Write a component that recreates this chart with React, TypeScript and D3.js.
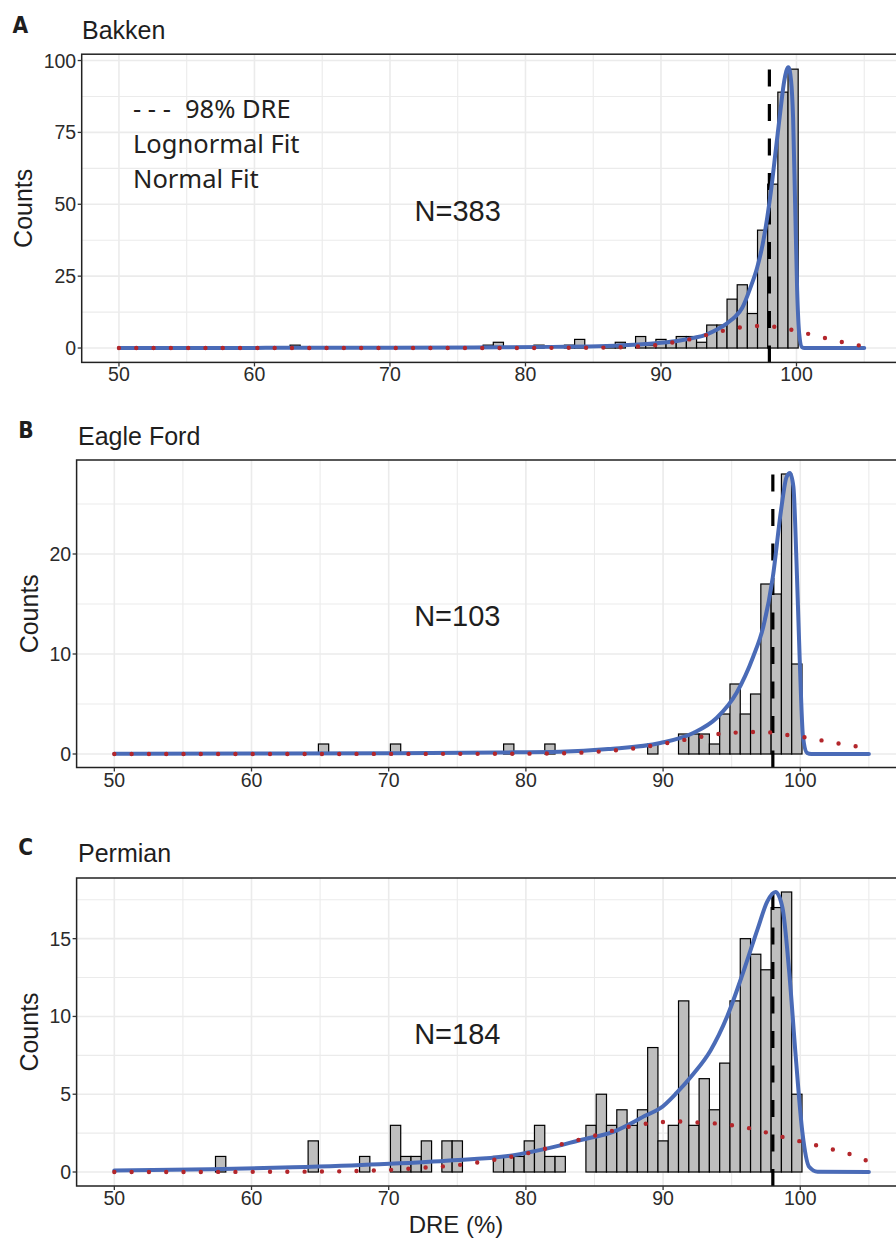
import React from 'react';
import * as d3 from 'd3';

// ---------- shared ----------
const xMajorTicks = [50, 60, 70, 80, 90, 100];
const xMinorTicks = [55, 65, 75, 85, 95, 105];
const dreThreshold = 98;
const binWidth = 0.75;
const legendLabels = ['98% DRE', 'Lognormal Fit', 'Normal Fit'];
const xAxisTitle = 'DRE (%)';
const yAxisTitle = 'Counts';

// ---------- Bakken ----------
const bakkenBinCenters = [63.0, 77.25, 78.0, 81.0, 83.25, 84.0, 86.25, 87.0, 88.5, 89.25, 90.0, 90.75, 91.5, 92.25, 93.0, 93.75, 94.5, 95.25, 96.0, 96.75, 97.5, 98.25, 99.0, 99.75];
const bakkenCounts = [1, 1, 2, 1, 1, 3, 1, 2, 4, 1, 3, 2, 4, 4, 2, 8, 8, 17, 22, 12, 41, 57, 89, 97];
const bakkenLognormX = [50, 60, 70, 78, 82, 86, 88, 90, 91.5, 92.5, 93.3, 94.2, 94.9, 95.5, 96, 96.6, 97.1, 97.5, 98.1, 98.5, 98.8, 99.1, 99.4, 99.6, 99.75, 99.9, 100.05, 100.2, 100.4, 100.6, 105];
const bakkenLognormY = [0.02, 0.05, 0.1, 0.25, 0.4, 0.7, 1.1, 1.8, 2.7, 3.6, 4.6, 6.6, 8.7, 11, 14, 21, 28, 36, 54, 70, 82, 93, 97.7, 93, 80, 50, 20, 5, 0.3, 0, 0];
const bakkenNormalX = [50, 80, 83, 85.7, 88.2, 89.5, 90.75, 92, 93.25, 94.5, 95.75, 97, 98.3, 99.5, 100.8, 102, 103.25, 104.5, 105];
const bakkenNormalY = [0, 0.02, 0.1, 0.15, 0.5, 0.95, 1.85, 2.9, 4.4, 5.9, 7.1, 7.65, 7.4, 6.5, 5.0, 3.6, 2.2, 1.0, 0.7];
const bakkenYTicks = [0, 25, 50, 75, 100];
const bakkenYMinor = [12.5, 37.5, 62.5, 87.5];

// ---------- Eagle Ford ----------
const eagleBinCenters = [65.25, 70.5, 78.75, 81.75, 89.25, 91.5, 92.25, 93.0, 93.75, 94.5, 95.25, 96.0, 96.75, 97.5, 98.25, 99.0, 99.75];
const eagleCounts = [1, 1, 1, 1, 1, 2, 2, 2, 1, 4, 7, 4, 6, 17, 16, 28, 9];
const eagleLognormX = [50, 60, 70, 78, 82.5, 86, 89.8, 92.2, 93.9, 95.35, 96.56, 97.3, 98.0, 98.6, 99.0, 99.25, 99.5, 99.72, 99.96, 100.2, 100.5, 100.8, 105];
const eagleLognormY = [0.02, 0.04, 0.08, 0.15, 0.23, 0.5, 1.1, 2.1, 3.6, 6.1, 9.7, 12.7, 17.7, 24.4, 27.7, 28.1, 26.7, 19.4, 9.4, 1.7, 0.1, 0, 0];
const eagleNormalX = [50, 70, 78, 82.7, 85.2, 87.7, 90.2, 92.7, 93.9, 95.2, 96.4, 97.7, 98.9, 100.2, 101.4, 102.7, 103.9, 105];
const eagleNormalY = [0, 0.01, 0.02, 0.07, 0.23, 0.53, 1.07, 1.7, 1.97, 2.13, 2.2, 2.17, 1.93, 1.7, 1.4, 1.07, 0.8, 0.6];
const eagleYTicks = [0, 10, 20];
const eagleYMinor = [5, 15, 25];

// ---------- Permian ----------
const permianBinCenters = [57.75, 64.5, 68.25, 70.5, 71.25, 72.0, 72.75, 74.25, 75.0, 78.0, 78.75, 79.5, 80.25, 81.0, 81.75, 82.5, 84.75, 85.5, 86.25, 87.0, 87.75, 88.5, 89.25, 90.0, 90.75, 91.5, 92.25, 93.0, 93.75, 94.5, 95.25, 96.0, 96.75, 97.5, 98.25, 99.0, 99.75];
const permianCounts = [1, 2, 1, 3, 1, 1, 2, 2, 2, 1, 1, 1, 2, 3, 1, 1, 3, 5, 3, 4, 3, 4, 8, 2, 3, 11, 3, 6, 4, 7, 11, 15, 14, 13, 17, 18, 5];
const permianLognormX = [50, 57, 63, 69.3, 74.2, 79, 81.5, 84, 86.4, 88.8, 89.8, 91, 92.2, 93.45, 94.67, 95.9, 96.9, 97.6, 98.2, 98.7, 99.18, 99.67, 100.16, 100.64, 101.26, 105];
const permianLognormY = [0.09, 0.17, 0.3, 0.5, 0.73, 1.07, 1.5, 2.06, 2.6, 3.66, 4.1, 5.1, 6.3, 7.8, 10, 13, 15.65, 17.4, 18.0, 17.0, 13, 7.4, 2.5, 0.34, 0.02, 0];
const permianNormalX = [50, 60, 65, 68, 70, 72.6, 75.1, 77.6, 80.1, 82.5, 85, 87.4, 89.9, 91.2, 92.4, 93.7, 94.9, 96.2, 97.4, 98.65, 99.9, 101.1, 102.3, 103.5, 104.7, 105];
const permianNormalY = [0, 0.01, 0.03, 0.07, 0.13, 0.28, 0.45, 0.77, 1.2, 1.76, 2.33, 2.89, 3.21, 3.25, 3.19, 3.13, 3.02, 2.83, 2.57, 2.27, 1.99, 1.73, 1.46, 1.18, 0.78, 0.65];
const permianYTicks = [0, 5, 10, 15];
const permianYMinor = [2.5, 7.5, 12.5, 17.5];

const panelTitles = ['Bakken', 'Eagle Ford', 'Permian'];
const panelLetters = ['A', 'B', 'C'];
const sampleSizes = [383, 103, 184];

const BLUE = '#4A6BB7';
const RED = '#B3262B';
const TEXT = '#1e1e1e';

type PanelProps = {
  id: string;
  letter: string;
  title: string;
  n: number;
  centers: number[];
  counts: number[];
  logX: number[];
  logY: number[];
  normX: number[];
  normY: number[];
  yTicks: number[];
  yMinor: number[];
  left: number;
  right: number;
  top: number;
  bottom: number;
  yDomain: [number, number];
  letterX: number;
  letterY: number;
  titleX: number;
  titleY: number;
  countsX: number;
  nY: number;
  showLegend?: boolean;
  showXTitle?: boolean;
};

function Panel(p: PanelProps) {
  const x = d3.scaleLinear().domain([47.25, 107.75]).range([p.left, p.right]);
  const y = d3.scaleLinear().domain(p.yDomain).range([p.bottom, p.top]);
  const line = d3
    .line<[number, number]>()
    .x((d) => x(d[0]))
    .y((d) => y(d[1]))
    .curve(d3.curveMonotoneX);
  const logPts = p.logX.map((v, i) => [v, p.logY[i]] as [number, number]);
  const normPts = p.normX.map((v, i) => [v, p.normY[i]] as [number, number]);
  const gridColor = '#EBEBEB';
  const axisColor = '#333333';
  const midY = (p.top + p.bottom) / 2;
  return (
    <g>
      {/* grid */}
      {xMinorTicks.map((t) => (
        <line key={'xm' + t} x1={x(t)} x2={x(t)} y1={p.top} y2={p.bottom} stroke={gridColor} strokeWidth={1.1} />
      ))}
      {p.yMinor.map((t) => (
        <line key={'ym' + t} x1={p.left} x2={p.right} y1={y(t)} y2={y(t)} stroke={gridColor} strokeWidth={1.1} />
      ))}
      {xMajorTicks.map((t) => (
        <line key={'xM' + t} x1={x(t)} x2={x(t)} y1={p.top} y2={p.bottom} stroke={gridColor} strokeWidth={1.6} />
      ))}
      {p.yTicks.map((t) => (
        <line key={'yM' + t} x1={p.left} x2={p.right} y1={y(t)} y2={y(t)} stroke={gridColor} strokeWidth={1.6} />
      ))}
      {/* bars */}
      {p.centers.map((c, i) => (
        <rect
          key={'b' + i}
          x={x(c - binWidth / 2)}
          y={y(p.counts[i])}
          width={x(c + binWidth / 2) - x(c - binWidth / 2)}
          height={y(0) - y(p.counts[i])}
          fill="#BEBEBE"
          stroke="#000"
          strokeWidth={1.2}
        />
      ))}
      {/* 98% line */}
      <path
        d={`M${x(dreThreshold)},${p.bottom}V${p.top}`}
        stroke="#000"
        strokeWidth={3.2}
        strokeDasharray="17 17.5"
        fill="none"
      />
      {/* fits */}
      <path d={line(logPts) || ''} fill="none" stroke={BLUE} strokeWidth={4} strokeLinejoin="round" strokeLinecap="round" />
      <path
        d={line(normPts) || ''}
        fill="none"
        stroke={RED}
        strokeWidth={4.4}
        strokeLinecap="round"
        strokeDasharray="0 17.3"
      />
      {/* border */}
      <rect x={p.left} y={p.top} width={p.right - p.left} height={p.bottom - p.top} fill="none" stroke="#222" strokeWidth={1.5} />
      {/* ticks */}
      {xMajorTicks.map((t) => (
        <g key={'xt' + t}>
          <line x1={x(t)} x2={x(t)} y1={p.bottom} y2={p.bottom + 4} stroke={axisColor} strokeWidth={1.3} />
          <text x={x(t)} y={p.bottom + 19} textAnchor="middle" fontSize={19.5} fill="#2b2b2b" fontFamily="'Liberation Sans', Arial, sans-serif">
            {t}
          </text>
        </g>
      ))}
      {p.yTicks.map((t) => (
        <g key={'yt' + t}>
          <line x1={p.left - 4} x2={p.left} y1={y(t)} y2={y(t)} stroke={axisColor} strokeWidth={1.3} />
          <text x={p.left - 5.5} y={y(t)} dy="0.36em" textAnchor="end" fontSize={19.5} fill="#2b2b2b" fontFamily="'Liberation Sans', Arial, sans-serif">
            {t}
          </text>
        </g>
      ))}
      {/* titles */}
      <text x={p.letterX} y={p.letterY} fontSize={22.5} fontWeight="bold" fill={TEXT} fontFamily="'Liberation Sans Narrow', 'DejaVu Sans Condensed', Arial, sans-serif">
        {p.letter}
      </text>
      <text x={p.titleX} y={p.titleY} fontSize={25} fill={TEXT} fontFamily="'Liberation Sans', Arial, sans-serif">
        {p.title}
      </text>
      <text
        transform={`translate(${p.countsX},${midY}) rotate(-90)`}
        textAnchor="middle"
        fontSize={25}
        fill={TEXT}
        fontFamily="'Liberation Sans', Arial, sans-serif"
      >
        {yAxisTitle}
      </text>
      <text x={x(75)} y={y(p.nY)} dy="0.36em" textAnchor="middle" fontSize={29} fill={TEXT} fontFamily="'Liberation Sans', Arial, sans-serif">
        {`N=${p.n}`}
      </text>
      {p.showLegend && (
        <g fontFamily="'Noto Sans', 'Open Sans', sans-serif" fontSize={25.5} fill="#231F20">
          <text x={133} y={118}>- - -</text>
          <text x={185} y={118}>{legendLabels[0]}</text>
          <text x={133} y={153}>{legendLabels[1]}</text>
          <text x={133} y={188}>{legendLabels[2]}</text>
        </g>
      )}
      {p.showXTitle && (
        <text x={456} y={1233} textAnchor="middle" fontSize={24} fill={TEXT} fontFamily="'Liberation Sans', Arial, sans-serif">
          {xAxisTitle}
        </text>
      )}
    </g>
  );
}

export default function App() {
  return (
    <svg
      width={896}
      height={1238}
      viewBox="0 0 896 1238"
      style={{ position: 'absolute', left: 0, top: 0, background: '#fff', overflow: 'hidden' }}
    >
      <rect x={0} y={0} width={896} height={1238} fill="#fff" />
      <Panel
        id="a"
        letter={panelLetters[0]}
        title={panelTitles[0]}
        n={sampleSizes[0]}
        centers={bakkenBinCenters}
        counts={bakkenCounts}
        logX={bakkenLognormX}
        logY={bakkenLognormY}
        normX={bakkenNormalX}
        normY={bakkenNormalY}
        yTicks={bakkenYTicks}
        yMinor={bakkenYMinor}
        left={81.7}
        right={901.5}
        top={54.2}
        bottom={362.4}
        yDomain={[-5, 102.2]}
        letterX={12.5}
        letterY={33.3}
        titleX={82}
        titleY={39.3}
        countsX={32}
        nY={47.7}
        showLegend
      />
      <Panel
        id="b"
        letter={panelLetters[1]}
        title={panelTitles[1]}
        n={sampleSizes[1]}
        centers={eagleBinCenters}
        counts={eagleCounts}
        logX={eagleLognormX}
        logY={eagleLognormY}
        normX={eagleNormalX}
        normY={eagleNormalY}
        yTicks={eagleYTicks}
        yMinor={eagleYMinor}
        left={76.6}
        right={906.6}
        top={460}
        bottom={767.5}
        yDomain={[-1.35, 29.4]}
        letterX={18.3}
        letterY={438.3}
        titleX={78}
        titleY={445}
        countsX={38}
        nY={13.8}
      />
      <Panel
        id="c"
        letter={panelLetters[2]}
        title={panelTitles[2]}
        n={sampleSizes[2]}
        centers={permianBinCenters}
        counts={permianCounts}
        logX={permianLognormX}
        logY={permianLognormY}
        normX={permianNormalX}
        normY={permianNormalY}
        yTicks={permianYTicks}
        yMinor={permianYMinor}
        left={76.6}
        right={906.6}
        top={878}
        bottom={1186}
        yDomain={[-0.9, 18.9]}
        letterX={18.3}
        letterY={855}
        titleX={78}
        titleY={862}
        countsX={38}
        nY={8.9}
        showXTitle
      />
    </svg>
  );
}
